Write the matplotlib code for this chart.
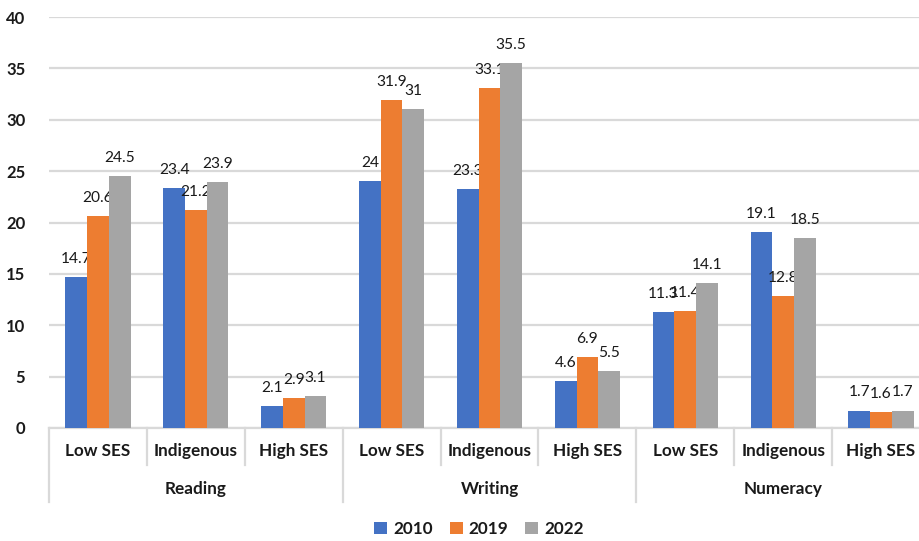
import matplotlib
matplotlib.use("Agg")
import matplotlib.pyplot as plt
from matplotlib.patches import Patch
import numpy as np

groups = ["Reading", "Writing", "Numeracy"]
subgroups = ["Low SES", "Indigenous", "High SES"]
years = ["2010", "2019", "2022"]

vals_2010 = [14.7, 23.4, 2.1, 24, 23.3, 4.6, 11.3, 19.1, 1.7]
vals_2019 = [20.6, 21.2, 2.9, 31.9, 33.1, 6.9, 11.4, 12.8, 1.6]
vals_2022 = [24.5, 23.9, 3.1, 31, 35.5, 5.5, 14.1, 18.5, 1.7]

colors = ["#4472C4", "#ED7D31", "#A5A5A5"]
grid_col = "#D9D9D9"
txt_col = "#1A1A1A"

plt.rcParams["font.family"] = ["Lato", "DejaVu Sans"]

W, H = 919, 541
fig = plt.figure(figsize=(W / 100, H / 100), dpi=100)
# plot area runs a little past the right edge, like the source export
ax = fig.add_axes([49 / W, 1 - 428 / H, (930 - 49) / W, (428 - 17) / H])

x = np.arange(len(vals_2010))
bw = 0.222
series = [vals_2010, vals_2019, vals_2022]
for k, (vals, col) in enumerate(zip(series, colors)):
    pos = x + (k - 1) * bw
    ax.bar(pos, vals, width=bw, color=col, zorder=3)
    for px, v in zip(pos, vals):
        ax.annotate(f"{v:g}", (px, v), xytext=(0, 13), textcoords="offset points",
                    ha="center", va="center", fontsize=11.2, color=txt_col)

ax.set_xlim(-0.5, len(x) - 0.5)
ax.set_ylim(0, 40)
ax.set_yticks(range(0, 41, 5))
ax.yaxis.grid(True, color=grid_col, linewidth=1.6, zorder=0)
ax.tick_params(axis="y", length=0, pad=17, labelsize=12, labelcolor=txt_col)
for lab in ax.get_yticklabels():
    lab.set_fontweight("bold")
ax.set_xticks([])
for s in ["top", "right", "left"]:
    ax.spines[s].set_visible(False)
ax.spines["bottom"].set_color(grid_col)
ax.spines["bottom"].set_linewidth(1.6)

# multi-level category axis
trans = ax.get_xaxis_transform()
axh = 428 - 17
short = -(465 - 428) / axh
long_ = -(502 - 428) / axh
for b in np.arange(-0.5, len(x), 1.0):
    bottom = long_ if int(round(b + 0.5)) % 3 == 0 else short
    ax.plot([b, b], [0, bottom], transform=trans, color=grid_col,
            linewidth=1.6, clip_on=False)
for i in x:
    ax.text(i, -(451 - 428) / axh, subgroups[i % 3], transform=trans,
            ha="center", va="center", fontsize=12.3, fontweight="bold", color=txt_col)
for g, name in enumerate(groups):
    ax.text(3 * g + 1, -(489 - 428) / axh, name, transform=trans,
            ha="center", va="center", fontsize=12.3, fontweight="bold", color=txt_col)

handles = [Patch(facecolor=c, edgecolor="none") for c in colors]
leg = fig.legend(handles, years, loc="center", bbox_to_anchor=(479 / W, 1 - 529 / H),
                 ncol=3, frameon=False, handlelength=0.75, handleheight=0.75,
                 handletextpad=0.35, columnspacing=1.0,
                 prop={"size": 12.3, "weight": "bold"})
for t in leg.get_texts():
    t.set_color(txt_col)

fig.savefig("out.png", dpi=100, facecolor="white")
